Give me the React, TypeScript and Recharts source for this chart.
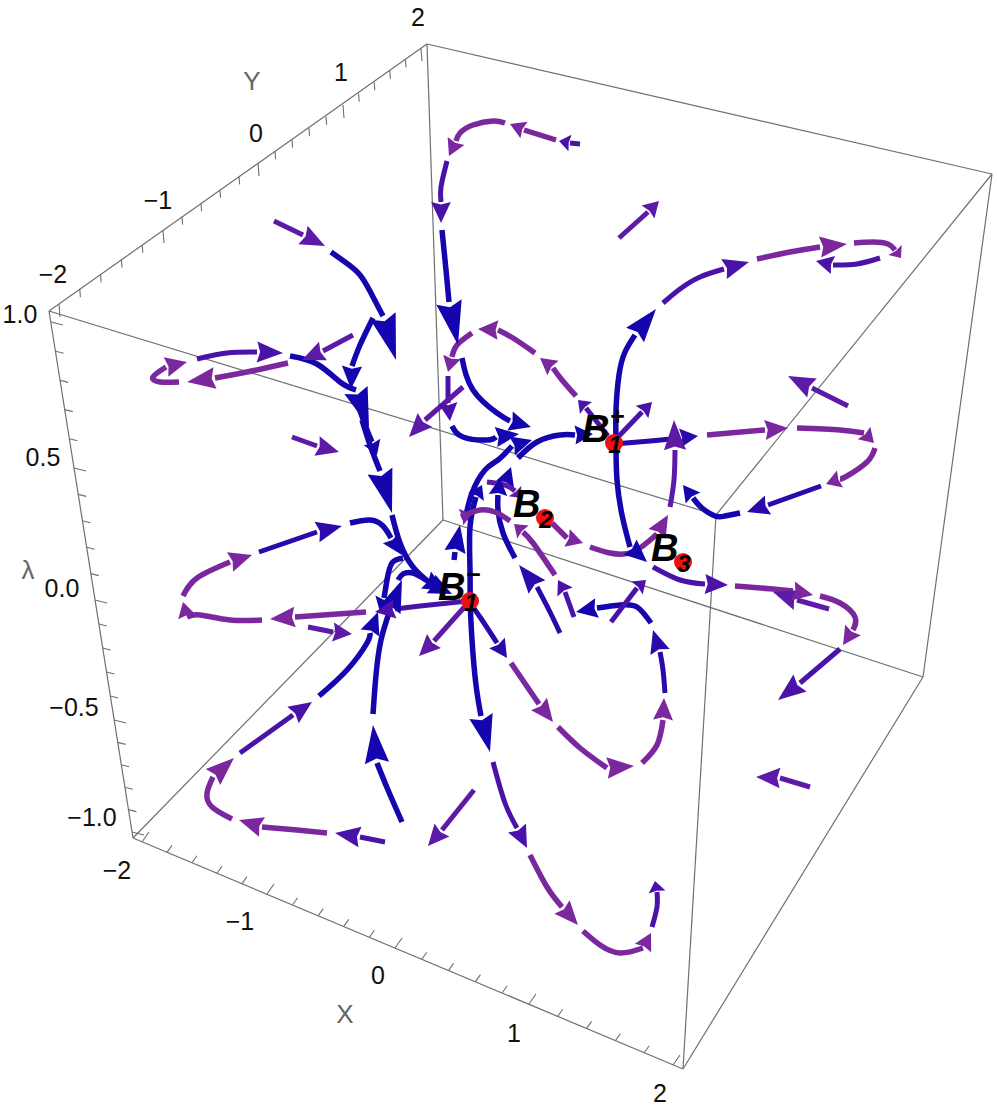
import { ScatterChart, Scatter, XAxis, YAxis, ReferenceLine } from "recharts";

type Pt = [number, number];

const WIDTH = 997;
const HEIGHT = 1116;

// every stream runs tail -> ... -> head base -> tip, in projected picture units
const blueStreams: Pt[][] = [
  [[331, 252], [345, 262], [360, 275], [372, 295], [383, 316], [396, 360]],
  [[442, 230], [446, 270], [449, 302], [458, 345]],
  [[616, 440], [616, 410], [619, 375], [625, 352], [635, 335], [656, 309]],
  [[616, 445], [617, 480], [622, 515], [630, 547], [647, 562]],
  [[740, 513], [725, 516], [715, 516], [702, 508], [693, 498], [683, 485]],
  [[518, 458], [537, 442], [560, 435], [575, 435], [593, 434]],
  [[470, 603], [470, 570], [470, 527], [476, 497], [482, 485]],
  [[465, 520], [472, 493], [485, 470], [498, 460], [512, 446], [532, 440]],
  [[470, 600], [472, 640], [476, 685], [481, 716], [490, 752]],
  [[402, 822], [388, 790], [377, 763], [373, 725]],
  [[373, 714], [376, 675], [381, 640], [390, 610], [402, 580]],
  [[319, 696], [347, 670], [367, 643], [370, 633], [378, 612]],
  [[290, 356], [317, 364], [340, 382], [356, 390], [369, 427]],
  [[358, 405], [367, 430], [372, 442], [377, 455]],
  [[362, 420], [370, 445], [380, 471], [392, 513]],
  [[392, 515], [400, 543], [413, 567], [431, 584], [452, 594]],
  [[350, 523], [370, 520], [383, 526], [391, 538], [402, 555]],
  [[373, 318], [360, 345], [352, 366], [351, 389]],
  [[462, 358], [473, 390], [497, 413], [510, 421], [531, 427]],
  [[452, 426], [463, 437], [487, 440], [496, 437], [519, 434]],
  [[515, 558], [503, 533], [498, 510], [498, 495], [500, 478]],
  [[505, 484], [511, 467]],
  [[651, 623], [637, 607], [620, 605], [597, 608], [576, 612]],
  [[403, 558], [392, 563], [387, 580], [384, 598], [380, 612]],
  [[398, 580], [403, 574], [413, 573], [426, 580], [445, 591]],
  [[454, 560], [455, 552], [460, 525]],
];

const deepIndigoStreams: Pt[][] = [
  [[821, 486], [768, 505], [747, 512]],
  [[614, 444], [650, 441], [680, 438], [698, 436]],
  [[470, 603], [482, 620], [497, 643], [507, 658]],
  [[665, 693], [663, 670], [660, 652], [653, 630]],
  [[259, 552], [317, 532], [342, 526]],
  [[560, 633], [550, 612], [537, 587], [519, 565]],
];

const indigoStreams: Pt[][] = [
  [[447, 161], [441, 187], [441, 202], [441, 223]],
  [[663, 303], [680, 289], [700, 277], [724, 269], [749, 262]],
  [[880, 258], [857, 264], [833, 265], [816, 261]],
  [[618, 437], [642, 412], [652, 402]],
  [[608, 436], [586, 408], [578, 400]],
  [[493, 762], [505, 803], [517, 828], [527, 848]],
  [[652, 927], [657, 907], [657, 892], [655, 881]],
  [[240, 753], [293, 715], [312, 702]],
  [[385, 842], [360, 837], [335, 833]],
  [[197, 359], [227, 353], [257, 352], [283, 353]],
  [[448, 376], [448, 403], [450, 421]],
  [[653, 567], [680, 580], [705, 584], [728, 585]],
  [[574, 617], [565, 592], [558, 580]],
  [[611, 622], [637, 588], [646, 580]],
  [[468, 601], [420, 606], [395, 609], [375, 612]],
  [[840, 649], [800, 683], [778, 700]],
  [[580, 144], [570, 143], [559, 141]],
];

const violetStreams: Pt[][] = [
  [[274, 221], [303, 235], [325, 246]],
  [[619, 238], [648, 212], [659, 201]],
  [[848, 406], [812, 388], [788, 376]],
  [[670, 507], [674, 480], [675, 450], [674, 420]],
  [[468, 603], [434, 641], [419, 656]],
  [[474, 790], [442, 830], [428, 846]],
  [[353, 335], [323, 351], [302, 360]],
  [[463, 387], [425, 420], [409, 437]],
  [[829, 609], [797, 600], [773, 592]],
  [[810, 787], [780, 778], [756, 777]],
  [[308, 627], [333, 632], [352, 634]],
  [[292, 437], [317, 446], [339, 452]],
  [[487, 482], [505, 485], [515, 491], [521, 498]],
];

const purpleStreams: Pt[][] = [
  [[556, 140], [524, 130], [510, 124]],
  [[505, 123], [493, 121], [473, 125], [460, 133], [456, 141], [449, 156]],
  [[757, 259], [790, 252], [820, 247], [847, 244]],
  [[854, 243], [873, 242], [888, 244], [895, 250], [901, 258]],
  [[707, 435], [765, 430], [788, 428]],
  [[797, 428], [840, 430], [864, 433], [874, 443]],
  [[875, 448], [867, 462], [847, 476], [840, 479], [826, 484]],
  [[530, 855], [547, 887], [562, 907], [578, 925]],
  [[583, 931], [600, 945], [620, 953], [643, 948], [651, 933]],
  [[511, 663], [539, 704], [553, 722]],
  [[558, 727], [580, 748], [607, 768], [634, 766]],
  [[642, 763], [657, 745], [663, 720], [664, 698]],
  [[232, 819], [212, 807], [207, 793], [213, 777], [234, 758]],
  [[327, 833], [297, 830], [262, 827], [239, 820]],
  [[366, 612], [295, 617], [270, 619]],
  [[262, 620], [230, 620], [200, 615], [187, 617], [183, 602]],
  [[183, 596], [197, 578], [230, 562], [252, 555]],
  [[288, 363], [247, 372], [215, 378], [187, 382]],
  [[179, 382], [160, 382], [153, 377], [166, 367], [187, 362]],
  [[472, 333], [457, 345], [452, 357], [448, 372]],
  [[535, 353], [513, 338], [498, 330], [478, 329]],
  [[576, 396], [562, 380], [553, 368], [540, 358]],
  [[510, 521], [495, 512], [480, 510], [470, 513], [461, 517], [472, 514]],
  [[555, 575], [533, 543], [523, 532], [514, 524]],
  [[552, 523], [567, 538], [583, 543]],
  [[590, 547], [610, 553], [633, 552], [657, 534], [668, 515]],
  [[735, 586], [773, 589], [793, 591], [813, 595]],
  [[820, 596], [840, 603], [855, 617], [853, 630], [843, 645]],
];

const boxEdges: [Pt, Pt][] = [
  [[49, 311], [427, 44]],
  [[427, 44], [992, 174]],
  [[992, 174], [716, 515]],
  [[716, 515], [49, 311]],
  [[49, 311], [133, 838]],
  [[427, 44], [443, 520]],
  [[992, 174], [923, 677]],
  [[716, 515], [683, 1069]],
  [[133, 838], [443, 520]],
  [[443, 520], [923, 677]],
  [[923, 677], [683, 1069]],
  [[683, 1069], [133, 838]],
];

const yTickLabels = ["−2", "−1", "0", "1", "2"];
const yTickAnchors: Pt[] = [[53, 274], [158, 200], [256, 133], [341, 72], [418, 17]];
const yMajorTicks: Pt[] = [[59, 304], [163, 230], [258, 163], [343, 105], [421, 48]];

const zTickLabels = ["1.0", "0.5", "0.0", "−0.5", "−1.0"];
const zTickAnchors: Pt[] = [[20, 314], [43, 457], [62, 588], [74, 707], [92, 817]];
const zMajorTicks: Pt[] = [[51, 322], [74, 468], [95, 600], [114, 720], [132, 832]];

const xTickLabels = ["−2", "−1", "0", "1", "2"];
const xTickAnchors: Pt[] = [[117, 870], [240, 921], [378, 975], [514, 1033], [660, 1093]];
const xMajorTicks: Pt[] = [[142, 842], [267, 894], [395, 948], [529, 1004], [673, 1065]];

const axisTitles = ["X", "Y", "λ"];
const axisTitleAnchors: Pt[] = [[345, 1014], [252, 81], [28, 570]];

const fixedPointNames = ["1", "2", "3", "1"];
const fixedPointSigns = ["+", "", "", "−"];
const fixedPoints: Pt[] = [[614, 443], [545, 518], [683, 562], [470, 601]];

const TONES = [
  { streams: blueStreams, color: "#1505ae", width: 5.5 },
  { streams: deepIndigoStreams, color: "#2c09ab", width: 5 },
  { streams: indigoStreams, color: "#4a12a8", width: 5 },
  { streams: violetStreams, color: "#5c1aa6", width: 5 },
  { streams: purpleStreams, color: "#7b289f", width: 5.5 },
];

const FONT = '"Liberation Sans", Arial, sans-serif';

function minorAndMajorTicks(majors: Pt[], major: Pt, minor: Pt) {
  const out: [Pt, Pt][] = [];
  majors.forEach((m, i) => {
    out.push([m, [m[0] + major[0], m[1] + major[1]]]);
    const next = majors[i + 1];
    if (!next) return;
    for (let k = 1; k < 5; k++) {
      const x = m[0] + ((next[0] - m[0]) * k) / 5;
      const y = m[1] + ((next[1] - m[1]) * k) / 5;
      out.push([[x, y], [x + minor[0], y + minor[1]]]);
    }
  });
  return out;
}

const tickSegments = [
  ...minorAndMajorTicks(yMajorTicks, [1, 13], [0.6, 8]),
  ...minorAndMajorTicks(zMajorTicks, [12, 3], [8, 2]),
  ...minorAndMajorTicks(xMajorTicks, [7, -10], [5, -7]),
];

const axisLabelRows = [
  ...yTickLabels.map((label, i) => ({ label, x: yTickAnchors[i][0], y: yTickAnchors[i][1] })),
  ...zTickLabels.map((label, i) => ({ label, x: zTickAnchors[i][0], y: zTickAnchors[i][1] })),
  ...xTickLabels.map((label, i) => ({ label, x: xTickAnchors[i][0], y: xTickAnchors[i][1] })),
];
const axisTitleRows = axisTitles.map((label, i) => ({
  label,
  x: axisTitleAnchors[i][0],
  y: axisTitleAnchors[i][1],
}));
const fixedPointRows = fixedPoints.map((p, i) => ({
  x: p[0],
  y: p[1],
  name: fixedPointNames[i],
  sign: fixedPointSigns[i],
}));

const toRows = (pts: Pt[]) => pts.map(([x, y]) => ({ x, y }));

// head sits between the last two points of a stream
function headRows(streams: Pt[][]) {
  return streams.map((s) => {
    const tip = s[s.length - 1];
    const base = s[s.length - 2];
    return { x: tip[0], y: tip[1], bx: base[0], by: base[1] };
  });
}

function ArrowHead(props: any) {
  const { cx, cy, payload, fill } = props;
  const dx = payload.bx - payload.x;
  const dy = payload.by - payload.y;
  const len = Math.hypot(dx, dy) || 1;
  const half = (14 + 0.27 * len) / 2;
  const nx = -dy / len;
  const ny = dx / len;
  const bx = cx + dx;
  const by = cy + dy;
  const nock = 0.88;
  const points = [
    [cx, cy],
    [bx + nx * half, by + ny * half],
    [cx + dx * nock, cy + dy * nock],
    [bx - nx * half, by - ny * half],
  ]
    .map((p) => p.join(","))
    .join(" ");
  return <polygon points={points} fill={fill} />;
}

const NoDot = () => <g />;

function TickText(props: any) {
  return (
    <text x={props.cx} y={props.cy} textAnchor="middle" dominantBaseline="central" fontFamily={FONT} fontSize={25} fill="#111">
      {props.payload.label}
    </text>
  );
}

function TitleText(props: any) {
  return (
    <text x={props.cx} y={props.cy} textAnchor="middle" dominantBaseline="central" fontFamily={FONT} fontSize={26} fill="#666">
      {props.payload.label}
    </text>
  );
}

function FixedPoint(props: any) {
  const { cx, cy, payload } = props;
  const common = { fontFamily: FONT, fontWeight: 700, fontStyle: "italic", fill: "#000" };
  return (
    <g>
      <circle cx={cx} cy={cy} r={9} fill="#f01010" />
      <text x={cx - 32} y={cy - 1} fontSize={38} {...common}>B</text>
      <text x={cx + 1} y={cy + 10} textAnchor="middle" fontSize={24} {...common}>{payload.name}</text>
      {payload.sign && (
        <text x={cx + 3} y={cy - 18} textAnchor="middle" fontSize={25} {...common}>{payload.sign}</text>
      )}
    </g>
  );
}

export default function App() {
  return (
    <div style={{ position: "absolute", left: 0, top: 0, background: "#fff" }}>
      <ScatterChart width={WIDTH} height={HEIGHT} margin={{ top: 0, right: 0, bottom: 0, left: 0 }}>
        <XAxis type="number" dataKey="x" domain={[0, WIDTH]} hide />
        <YAxis type="number" dataKey="y" domain={[0, HEIGHT]} reversed hide />

        {TONES.map((tone, t) =>
          tone.streams.map((s, i) =>
            s.length > 2 ? (
              <Scatter
                key={`shaft-${t}-${i}`}
                data={toRows(s.slice(0, -1))}
                line={{ stroke: tone.color, strokeWidth: tone.width, fill: "none" }}
                lineJointType="natural"
                shape={NoDot}
                isAnimationActive={false}
              />
            ) : null,
          ),
        ).flat()}
        {TONES.map((tone, t) => (
          <Scatter
            key={`heads-${t}`}
            data={headRows(tone.streams)}
            fill={tone.color}
            shape={ArrowHead}
            isAnimationActive={false}
          />
        ))}

        <Scatter data={fixedPointRows} shape={FixedPoint} isAnimationActive={false} />

        {boxEdges.map(([a, b], i) => (
          <ReferenceLine
            key={`edge-${i}`}
            segment={[{ x: a[0], y: a[1] }, { x: b[0], y: b[1] }]}
            stroke="#6f6f6f"
            strokeWidth={1.2}
          />
        ))}
        {tickSegments.map(([a, b], i) => (
          <ReferenceLine
            key={`tick-${i}`}
            segment={[{ x: a[0], y: a[1] }, { x: b[0], y: b[1] }]}
            stroke="#6f6f6f"
            strokeWidth={1.1}
          />
        ))}

        <Scatter data={axisLabelRows} shape={TickText} isAnimationActive={false} />
        <Scatter data={axisTitleRows} shape={TitleText} isAnimationActive={false} />
      </ScatterChart>
    </div>
  );
}
